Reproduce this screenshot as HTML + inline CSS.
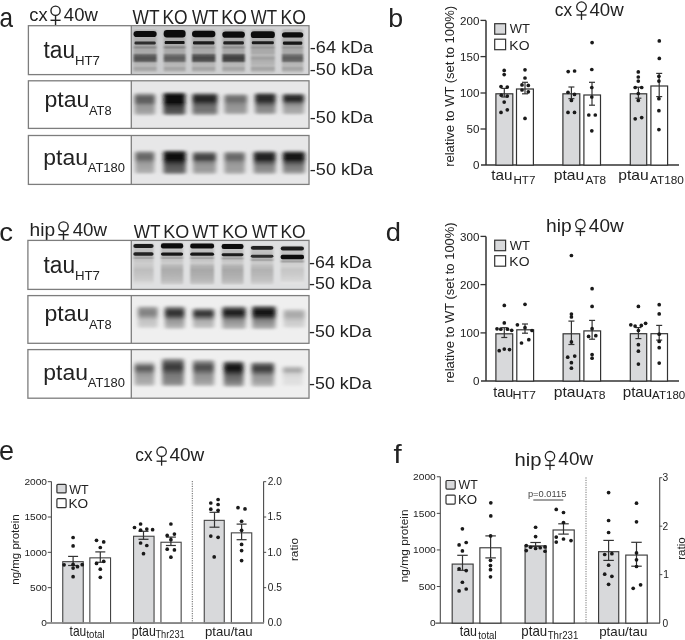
<!DOCTYPE html>
<html><head><meta charset="utf-8"><style>
html,body{margin:0;padding:0;background:#fff;}
svg{display:block;will-change:transform;}
text{font-family:"Liberation Sans",sans-serif;}
</style></head><body>
<svg width="685" height="640" viewBox="0 0 685 640">
<defs>
<filter id="b05" x="-20%" y="-100%" width="140%" height="300%"><feGaussianBlur stdDeviation="0.6"/></filter>
<filter id="b1" x="-20%" y="-100%" width="140%" height="300%"><feGaussianBlur stdDeviation="1"/></filter>
<filter id="b15" x="-20%" y="-60%" width="140%" height="220%"><feGaussianBlur stdDeviation="1.5"/></filter>
<filter id="b2" x="-20%" y="-50%" width="140%" height="200%"><feGaussianBlur stdDeviation="2"/></filter>
<filter id="h12" x="-20%" y="-20%" width="140%" height="140%"><feGaussianBlur stdDeviation="1.3 0.5"/></filter>
<filter id="h15" x="-25%" y="-25%" width="150%" height="150%"><feGaussianBlur stdDeviation="1.9 1.0"/></filter>
<linearGradient id="bga1" x1="0" y1="0" x2="1" y2="0"><stop offset="0" stop-color="#c9cacc"/><stop offset="0.5" stop-color="#cfd0d1"/><stop offset="1" stop-color="#d7d7d9"/></linearGradient><linearGradient id="g1" x1="0" y1="0" x2="0" y2="1"><stop offset="0.0000" stop-color="#cfd0d1"/><stop offset="0.0332" stop-color="rgb(185,185,185)"/><stop offset="0.2102" stop-color="rgb(175,175,175)"/><stop offset="0.2765" stop-color="rgb(170,170,170)"/><stop offset="0.3717" stop-color="rgb(170,170,170)"/><stop offset="0.4004" stop-color="rgb(150,150,150)"/><stop offset="0.4270" stop-color="rgb(140,140,140)"/><stop offset="0.4580" stop-color="rgb(168,168,168)"/><stop offset="0.5420" stop-color="rgb(170,170,170)"/><stop offset="0.5863" stop-color="rgb(105,105,105)"/><stop offset="0.6527" stop-color="rgb(80,80,80)"/><stop offset="0.7190" stop-color="rgb(95,95,95)"/><stop offset="0.7633" stop-color="rgb(180,180,180)"/><stop offset="0.8296" stop-color="rgb(185,185,185)"/><stop offset="0.8739" stop-color="rgb(165,165,165)"/><stop offset="0.9181" stop-color="rgb(170,170,170)"/><stop offset="0.9624" stop-color="rgb(195,195,195)"/><stop offset="1.0000" stop-color="#cfd0d1"/></linearGradient><linearGradient id="g2" x1="0" y1="0" x2="0" y2="1"><stop offset="0.0000" stop-color="#cfd0d1"/><stop offset="0.0332" stop-color="rgb(185,185,185)"/><stop offset="0.2102" stop-color="rgb(175,175,175)"/><stop offset="0.2765" stop-color="rgb(170,170,170)"/><stop offset="0.3717" stop-color="rgb(170,170,170)"/><stop offset="0.4004" stop-color="rgb(145,145,145)"/><stop offset="0.4270" stop-color="rgb(135,135,135)"/><stop offset="0.4580" stop-color="rgb(168,168,168)"/><stop offset="0.5420" stop-color="rgb(170,170,170)"/><stop offset="0.5863" stop-color="rgb(117,117,117)"/><stop offset="0.6527" stop-color="rgb(92,92,92)"/><stop offset="0.7190" stop-color="rgb(107,107,107)"/><stop offset="0.7633" stop-color="rgb(180,180,180)"/><stop offset="0.8296" stop-color="rgb(185,185,185)"/><stop offset="0.8739" stop-color="rgb(165,165,165)"/><stop offset="0.9181" stop-color="rgb(170,170,170)"/><stop offset="0.9624" stop-color="rgb(195,195,195)"/><stop offset="1.0000" stop-color="#cfd0d1"/></linearGradient><linearGradient id="g3" x1="0" y1="0" x2="0" y2="1"><stop offset="0.0000" stop-color="#cfd0d1"/><stop offset="0.0332" stop-color="rgb(185,185,185)"/><stop offset="0.2102" stop-color="rgb(175,175,175)"/><stop offset="0.2765" stop-color="rgb(170,170,170)"/><stop offset="0.3717" stop-color="rgb(170,170,170)"/><stop offset="0.4004" stop-color="rgb(160,160,160)"/><stop offset="0.4270" stop-color="rgb(150,150,150)"/><stop offset="0.4580" stop-color="rgb(168,168,168)"/><stop offset="0.5420" stop-color="rgb(170,170,170)"/><stop offset="0.5863" stop-color="rgb(95,95,95)"/><stop offset="0.6527" stop-color="rgb(70,70,70)"/><stop offset="0.7190" stop-color="rgb(85,85,85)"/><stop offset="0.7633" stop-color="rgb(180,180,180)"/><stop offset="0.8296" stop-color="rgb(185,185,185)"/><stop offset="0.8739" stop-color="rgb(165,165,165)"/><stop offset="0.9181" stop-color="rgb(170,170,170)"/><stop offset="0.9624" stop-color="rgb(195,195,195)"/><stop offset="1.0000" stop-color="#cfd0d1"/></linearGradient><linearGradient id="g4" x1="0" y1="0" x2="0" y2="1"><stop offset="0.0000" stop-color="#cfd0d1"/><stop offset="0.0332" stop-color="rgb(185,185,185)"/><stop offset="0.2102" stop-color="rgb(175,175,175)"/><stop offset="0.2765" stop-color="rgb(170,170,170)"/><stop offset="0.3717" stop-color="rgb(170,170,170)"/><stop offset="0.4004" stop-color="rgb(150,150,150)"/><stop offset="0.4270" stop-color="rgb(140,140,140)"/><stop offset="0.4580" stop-color="rgb(168,168,168)"/><stop offset="0.5420" stop-color="rgb(170,170,170)"/><stop offset="0.5863" stop-color="rgb(87,87,87)"/><stop offset="0.6527" stop-color="rgb(62,62,62)"/><stop offset="0.7190" stop-color="rgb(77,77,77)"/><stop offset="0.7633" stop-color="rgb(180,180,180)"/><stop offset="0.8296" stop-color="rgb(185,185,185)"/><stop offset="0.8739" stop-color="rgb(165,165,165)"/><stop offset="0.9181" stop-color="rgb(170,170,170)"/><stop offset="0.9624" stop-color="rgb(195,195,195)"/><stop offset="1.0000" stop-color="#cfd0d1"/></linearGradient><linearGradient id="g5" x1="0" y1="0" x2="0" y2="1"><stop offset="0.0000" stop-color="#cfd0d1"/><stop offset="0.0332" stop-color="rgb(185,185,185)"/><stop offset="0.2102" stop-color="rgb(175,175,175)"/><stop offset="0.2765" stop-color="rgb(170,170,170)"/><stop offset="0.3717" stop-color="rgb(170,170,170)"/><stop offset="0.4004" stop-color="rgb(160,160,160)"/><stop offset="0.4270" stop-color="rgb(150,150,150)"/><stop offset="0.4580" stop-color="rgb(168,168,168)"/><stop offset="0.5420" stop-color="rgb(170,170,170)"/><stop offset="0.5863" stop-color="rgb(185,185,185)"/><stop offset="0.6527" stop-color="rgb(160,160,160)"/><stop offset="0.7190" stop-color="rgb(175,175,175)"/><stop offset="0.7633" stop-color="rgb(180,180,180)"/><stop offset="0.8296" stop-color="rgb(185,185,185)"/><stop offset="0.8739" stop-color="rgb(165,165,165)"/><stop offset="0.9181" stop-color="rgb(170,170,170)"/><stop offset="0.9624" stop-color="rgb(195,195,195)"/><stop offset="1.0000" stop-color="#cfd0d1"/></linearGradient><linearGradient id="g6" x1="0" y1="0" x2="0" y2="1"><stop offset="0.0000" stop-color="#cfd0d1"/><stop offset="0.0332" stop-color="rgb(185,185,185)"/><stop offset="0.2102" stop-color="rgb(175,175,175)"/><stop offset="0.2765" stop-color="rgb(170,170,170)"/><stop offset="0.3717" stop-color="rgb(170,170,170)"/><stop offset="0.4004" stop-color="rgb(160,160,160)"/><stop offset="0.4270" stop-color="rgb(150,150,150)"/><stop offset="0.4580" stop-color="rgb(168,168,168)"/><stop offset="0.5420" stop-color="rgb(170,170,170)"/><stop offset="0.5863" stop-color="rgb(117,117,117)"/><stop offset="0.6527" stop-color="rgb(92,92,92)"/><stop offset="0.7190" stop-color="rgb(107,107,107)"/><stop offset="0.7633" stop-color="rgb(180,180,180)"/><stop offset="0.8296" stop-color="rgb(185,185,185)"/><stop offset="0.8739" stop-color="rgb(165,165,165)"/><stop offset="0.9181" stop-color="rgb(170,170,170)"/><stop offset="0.9624" stop-color="rgb(195,195,195)"/><stop offset="1.0000" stop-color="#cfd0d1"/></linearGradient><linearGradient id="g7" x1="0" y1="0" x2="0" y2="1"><stop offset="0.0000" stop-color="#e7e7e8"/><stop offset="0.1042" stop-color="rgb(149,149,149)"/><stop offset="0.2083" stop-color="rgb(96,96,96)"/><stop offset="0.3333" stop-color="rgb(92,92,92)"/><stop offset="0.4583" stop-color="rgb(105,105,105)"/><stop offset="0.5625" stop-color="rgb(149,149,149)"/><stop offset="0.6667" stop-color="rgb(154,154,154)"/><stop offset="0.7917" stop-color="rgb(158,158,158)"/><stop offset="0.9167" stop-color="rgb(176,176,176)"/><stop offset="1.0000" stop-color="#e7e7e8"/></linearGradient><linearGradient id="g8" x1="0" y1="0" x2="0" y2="1"><stop offset="0.0000" stop-color="#e7e7e8"/><stop offset="0.0816" stop-color="rgb(52,52,52)"/><stop offset="0.1837" stop-color="rgb(13,13,13)"/><stop offset="0.4694" stop-color="rgb(13,13,13)"/><stop offset="0.5714" stop-color="rgb(52,52,52)"/><stop offset="0.6735" stop-color="rgb(70,70,70)"/><stop offset="0.7959" stop-color="rgb(79,79,79)"/><stop offset="0.9184" stop-color="rgb(105,105,105)"/><stop offset="1.0000" stop-color="#e7e7e8"/></linearGradient><linearGradient id="g9" x1="0" y1="0" x2="0" y2="1"><stop offset="0.0000" stop-color="#e7e7e8"/><stop offset="0.1042" stop-color="rgb(88,88,88)"/><stop offset="0.2083" stop-color="rgb(35,35,35)"/><stop offset="0.3750" stop-color="rgb(39,39,39)"/><stop offset="0.5000" stop-color="rgb(88,88,88)"/><stop offset="0.6250" stop-color="rgb(114,114,114)"/><stop offset="0.7917" stop-color="rgb(114,114,114)"/><stop offset="0.9167" stop-color="rgb(149,149,149)"/><stop offset="1.0000" stop-color="#e7e7e8"/></linearGradient><linearGradient id="g10" x1="0" y1="0" x2="0" y2="1"><stop offset="0.0000" stop-color="#e7e7e8"/><stop offset="0.1136" stop-color="rgb(140,140,140)"/><stop offset="0.2273" stop-color="rgb(110,110,110)"/><stop offset="0.3636" stop-color="rgb(110,110,110)"/><stop offset="0.5000" stop-color="rgb(140,140,140)"/><stop offset="0.6364" stop-color="rgb(149,149,149)"/><stop offset="0.8182" stop-color="rgb(154,154,154)"/><stop offset="0.9318" stop-color="rgb(176,176,176)"/><stop offset="1.0000" stop-color="#e7e7e8"/></linearGradient><linearGradient id="g11" x1="0" y1="0" x2="0" y2="1"><stop offset="0.0000" stop-color="#e7e7e8"/><stop offset="0.0870" stop-color="rgb(88,88,88)"/><stop offset="0.1957" stop-color="rgb(39,39,39)"/><stop offset="0.3913" stop-color="rgb(44,44,44)"/><stop offset="0.5217" stop-color="rgb(96,96,96)"/><stop offset="0.6522" stop-color="rgb(132,132,132)"/><stop offset="0.8261" stop-color="rgb(140,140,140)"/><stop offset="0.9348" stop-color="rgb(167,167,167)"/><stop offset="1.0000" stop-color="#e7e7e8"/></linearGradient><linearGradient id="g12" x1="0" y1="0" x2="0" y2="1"><stop offset="0.0000" stop-color="#e7e7e8"/><stop offset="0.1111" stop-color="rgb(79,79,79)"/><stop offset="0.2222" stop-color="rgb(39,39,39)"/><stop offset="0.3778" stop-color="rgb(52,52,52)"/><stop offset="0.5111" stop-color="rgb(132,132,132)"/><stop offset="0.6444" stop-color="rgb(158,158,158)"/><stop offset="0.8222" stop-color="rgb(167,167,167)"/><stop offset="0.9333" stop-color="rgb(180,180,180)"/><stop offset="1.0000" stop-color="#e7e7e8"/></linearGradient><linearGradient id="g13" x1="0" y1="0" x2="0" y2="1"><stop offset="0.0000" stop-color="#e7e7e8"/><stop offset="0.1020" stop-color="rgb(140,140,140)"/><stop offset="0.2245" stop-color="rgb(101,101,101)"/><stop offset="0.3673" stop-color="rgb(105,105,105)"/><stop offset="0.4898" stop-color="rgb(145,145,145)"/><stop offset="0.6122" stop-color="rgb(162,162,162)"/><stop offset="0.7755" stop-color="rgb(167,167,167)"/><stop offset="0.9184" stop-color="rgb(180,180,180)"/><stop offset="1.0000" stop-color="#e7e7e8"/></linearGradient><linearGradient id="g14" x1="0" y1="0" x2="0" y2="1"><stop offset="0.0000" stop-color="#e7e7e8"/><stop offset="0.0784" stop-color="rgb(70,70,70)"/><stop offset="0.1765" stop-color="rgb(17,17,17)"/><stop offset="0.4118" stop-color="rgb(17,17,17)"/><stop offset="0.5294" stop-color="rgb(61,61,61)"/><stop offset="0.6471" stop-color="rgb(88,88,88)"/><stop offset="0.8039" stop-color="rgb(96,96,96)"/><stop offset="0.9216" stop-color="rgb(123,123,123)"/><stop offset="1.0000" stop-color="#e7e7e8"/></linearGradient><linearGradient id="g15" x1="0" y1="0" x2="0" y2="1"><stop offset="0.0000" stop-color="#e7e7e8"/><stop offset="0.1020" stop-color="rgb(123,123,123)"/><stop offset="0.2245" stop-color="rgb(66,66,66)"/><stop offset="0.3673" stop-color="rgb(70,70,70)"/><stop offset="0.4898" stop-color="rgb(132,132,132)"/><stop offset="0.6327" stop-color="rgb(154,154,154)"/><stop offset="0.7959" stop-color="rgb(154,154,154)"/><stop offset="0.9184" stop-color="rgb(176,176,176)"/><stop offset="1.0000" stop-color="#e7e7e8"/></linearGradient><linearGradient id="g16" x1="0" y1="0" x2="0" y2="1"><stop offset="0.0000" stop-color="#e7e7e8"/><stop offset="0.1020" stop-color="rgb(140,140,140)"/><stop offset="0.2245" stop-color="rgb(101,101,101)"/><stop offset="0.3673" stop-color="rgb(110,110,110)"/><stop offset="0.4898" stop-color="rgb(145,145,145)"/><stop offset="0.6327" stop-color="rgb(158,158,158)"/><stop offset="0.7959" stop-color="rgb(158,158,158)"/><stop offset="0.9184" stop-color="rgb(176,176,176)"/><stop offset="1.0000" stop-color="#e7e7e8"/></linearGradient><linearGradient id="g17" x1="0" y1="0" x2="0" y2="1"><stop offset="0.0000" stop-color="#e7e7e8"/><stop offset="0.1000" stop-color="rgb(79,79,79)"/><stop offset="0.2200" stop-color="rgb(30,30,30)"/><stop offset="0.3800" stop-color="rgb(35,35,35)"/><stop offset="0.5000" stop-color="rgb(88,88,88)"/><stop offset="0.6400" stop-color="rgb(132,132,132)"/><stop offset="0.8000" stop-color="rgb(140,140,140)"/><stop offset="0.9200" stop-color="rgb(167,167,167)"/><stop offset="1.0000" stop-color="#e7e7e8"/></linearGradient><linearGradient id="g18" x1="0" y1="0" x2="0" y2="1"><stop offset="0.0000" stop-color="#e7e7e8"/><stop offset="0.1000" stop-color="rgb(61,61,61)"/><stop offset="0.2200" stop-color="rgb(17,17,17)"/><stop offset="0.3800" stop-color="rgb(22,22,22)"/><stop offset="0.5000" stop-color="rgb(79,79,79)"/><stop offset="0.6400" stop-color="rgb(123,123,123)"/><stop offset="0.8000" stop-color="rgb(132,132,132)"/><stop offset="0.9200" stop-color="rgb(167,167,167)"/><stop offset="1.0000" stop-color="#e7e7e8"/></linearGradient><linearGradient id="g19" x1="0" y1="0" x2="0" y2="1"><stop offset="0.0000" stop-color="#dfe0e1"/><stop offset="0.0348" stop-color="rgb(200,200,200)"/><stop offset="0.3202" stop-color="rgb(185,185,185)"/><stop offset="0.3434" stop-color="rgb(170,170,170)"/><stop offset="0.3666" stop-color="rgb(160,160,160)"/><stop offset="0.3968" stop-color="rgb(195,195,195)"/><stop offset="0.4780" stop-color="rgb(205,205,205)"/><stop offset="0.5476" stop-color="rgb(202,202,202)"/><stop offset="0.6404" stop-color="rgb(190,190,190)"/><stop offset="0.7564" stop-color="rgb(196,196,196)"/><stop offset="0.8724" stop-color="rgb(205,205,205)"/><stop offset="0.9420" stop-color="rgb(218,218,218)"/><stop offset="1.0000" stop-color="#dfe0e1"/></linearGradient><linearGradient id="g20" x1="0" y1="0" x2="0" y2="1"><stop offset="0.0000" stop-color="#dfe0e1"/><stop offset="0.0343" stop-color="rgb(200,200,200)"/><stop offset="0.3295" stop-color="rgb(185,185,185)"/><stop offset="0.3524" stop-color="rgb(170,170,170)"/><stop offset="0.3753" stop-color="rgb(160,160,160)"/><stop offset="0.4050" stop-color="rgb(195,195,195)"/><stop offset="0.4851" stop-color="rgb(205,205,205)"/><stop offset="0.5538" stop-color="rgb(184,184,184)"/><stop offset="0.6453" stop-color="rgb(172,172,172)"/><stop offset="0.7597" stop-color="rgb(178,178,178)"/><stop offset="0.8741" stop-color="rgb(187,187,187)"/><stop offset="0.9428" stop-color="rgb(200,200,200)"/><stop offset="1.0000" stop-color="#dfe0e1"/></linearGradient><linearGradient id="g21" x1="0" y1="0" x2="0" y2="1"><stop offset="0.0000" stop-color="#dfe0e1"/><stop offset="0.0345" stop-color="rgb(200,200,200)"/><stop offset="0.3287" stop-color="rgb(185,185,185)"/><stop offset="0.3517" stop-color="rgb(170,170,170)"/><stop offset="0.3747" stop-color="rgb(160,160,160)"/><stop offset="0.4046" stop-color="rgb(195,195,195)"/><stop offset="0.4828" stop-color="rgb(205,205,205)"/><stop offset="0.5517" stop-color="rgb(180,180,180)"/><stop offset="0.6437" stop-color="rgb(168,168,168)"/><stop offset="0.7586" stop-color="rgb(174,174,174)"/><stop offset="0.8736" stop-color="rgb(183,183,183)"/><stop offset="0.9425" stop-color="rgb(196,196,196)"/><stop offset="1.0000" stop-color="#dfe0e1"/></linearGradient><linearGradient id="g22" x1="0" y1="0" x2="0" y2="1"><stop offset="0.0000" stop-color="#dfe0e1"/><stop offset="0.0350" stop-color="rgb(200,200,200)"/><stop offset="0.3287" stop-color="rgb(185,185,185)"/><stop offset="0.3520" stop-color="rgb(170,170,170)"/><stop offset="0.3753" stop-color="rgb(160,160,160)"/><stop offset="0.4056" stop-color="rgb(195,195,195)"/><stop offset="0.4755" stop-color="rgb(205,205,205)"/><stop offset="0.5455" stop-color="rgb(180,180,180)"/><stop offset="0.6387" stop-color="rgb(168,168,168)"/><stop offset="0.7552" stop-color="rgb(174,174,174)"/><stop offset="0.8718" stop-color="rgb(183,183,183)"/><stop offset="0.9417" stop-color="rgb(196,196,196)"/><stop offset="1.0000" stop-color="#dfe0e1"/></linearGradient><linearGradient id="g23" x1="0" y1="0" x2="0" y2="1"><stop offset="0.0000" stop-color="#dfe0e1"/><stop offset="0.0366" stop-color="rgb(200,200,200)"/><stop offset="0.3341" stop-color="rgb(185,185,185)"/><stop offset="0.3585" stop-color="rgb(170,170,170)"/><stop offset="0.3829" stop-color="rgb(160,160,160)"/><stop offset="0.4146" stop-color="rgb(195,195,195)"/><stop offset="0.4512" stop-color="rgb(205,205,205)"/><stop offset="0.5244" stop-color="rgb(190,190,190)"/><stop offset="0.6220" stop-color="rgb(178,178,178)"/><stop offset="0.7439" stop-color="rgb(184,184,184)"/><stop offset="0.8659" stop-color="rgb(193,193,193)"/><stop offset="0.9390" stop-color="rgb(206,206,206)"/><stop offset="1.0000" stop-color="#dfe0e1"/></linearGradient><linearGradient id="g24" x1="0" y1="0" x2="0" y2="1"><stop offset="0.0000" stop-color="#dfe0e1"/><stop offset="0.0370" stop-color="rgb(200,200,200)"/><stop offset="0.3630" stop-color="rgb(185,185,185)"/><stop offset="0.3877" stop-color="rgb(170,170,170)"/><stop offset="0.4123" stop-color="rgb(160,160,160)"/><stop offset="0.4444" stop-color="rgb(195,195,195)"/><stop offset="0.4444" stop-color="rgb(205,205,205)"/><stop offset="0.5185" stop-color="rgb(210,210,210)"/><stop offset="0.6173" stop-color="rgb(198,198,198)"/><stop offset="0.7407" stop-color="rgb(204,204,204)"/><stop offset="0.8642" stop-color="rgb(213,213,213)"/><stop offset="0.9383" stop-color="rgb(226,226,226)"/><stop offset="1.0000" stop-color="#dfe0e1"/></linearGradient><linearGradient id="g25" x1="0" y1="0" x2="0" y2="1"><stop offset="0.0000" stop-color="#efefef"/><stop offset="0.1042" stop-color="rgb(175,175,175)"/><stop offset="0.2083" stop-color="rgb(135,135,135)"/><stop offset="0.3750" stop-color="rgb(130,130,130)"/><stop offset="0.5000" stop-color="rgb(160,160,160)"/><stop offset="0.6250" stop-color="rgb(195,195,195)"/><stop offset="0.7917" stop-color="rgb(200,200,200)"/><stop offset="0.9167" stop-color="rgb(210,210,210)"/><stop offset="1.0000" stop-color="#efefef"/></linearGradient><linearGradient id="g26" x1="0" y1="0" x2="0" y2="1"><stop offset="0.0000" stop-color="#efefef"/><stop offset="0.1000" stop-color="rgb(140,140,140)"/><stop offset="0.2200" stop-color="rgb(60,60,60)"/><stop offset="0.3600" stop-color="rgb(45,45,45)"/><stop offset="0.4800" stop-color="rgb(90,90,90)"/><stop offset="0.6000" stop-color="rgb(150,150,150)"/><stop offset="0.7600" stop-color="rgb(165,165,165)"/><stop offset="0.9000" stop-color="rgb(185,185,185)"/><stop offset="1.0000" stop-color="#efefef"/></linearGradient><linearGradient id="g27" x1="0" y1="0" x2="0" y2="1"><stop offset="0.0000" stop-color="#efefef"/><stop offset="0.1136" stop-color="rgb(130,130,130)"/><stop offset="0.2273" stop-color="rgb(60,60,60)"/><stop offset="0.3636" stop-color="rgb(55,55,55)"/><stop offset="0.5000" stop-color="rgb(120,120,120)"/><stop offset="0.6364" stop-color="rgb(175,175,175)"/><stop offset="0.8182" stop-color="rgb(185,185,185)"/><stop offset="0.9318" stop-color="rgb(200,200,200)"/><stop offset="1.0000" stop-color="#efefef"/></linearGradient><linearGradient id="g28" x1="0" y1="0" x2="0" y2="1"><stop offset="0.0000" stop-color="#efefef"/><stop offset="0.1000" stop-color="rgb(120,120,120)"/><stop offset="0.2200" stop-color="rgb(40,40,40)"/><stop offset="0.3600" stop-color="rgb(30,30,30)"/><stop offset="0.4800" stop-color="rgb(80,80,80)"/><stop offset="0.6000" stop-color="rgb(140,140,140)"/><stop offset="0.7600" stop-color="rgb(160,160,160)"/><stop offset="0.9200" stop-color="rgb(180,180,180)"/><stop offset="1.0000" stop-color="#efefef"/></linearGradient><linearGradient id="g29" x1="0" y1="0" x2="0" y2="1"><stop offset="0.0000" stop-color="#efefef"/><stop offset="0.0980" stop-color="rgb(100,100,100)"/><stop offset="0.2157" stop-color="rgb(25,25,25)"/><stop offset="0.3725" stop-color="rgb(20,20,20)"/><stop offset="0.4902" stop-color="rgb(60,60,60)"/><stop offset="0.6078" stop-color="rgb(130,130,130)"/><stop offset="0.7647" stop-color="rgb(150,150,150)"/><stop offset="0.9216" stop-color="rgb(175,175,175)"/><stop offset="1.0000" stop-color="#efefef"/></linearGradient><linearGradient id="g30" x1="0" y1="0" x2="0" y2="1"><stop offset="0.0000" stop-color="#efefef"/><stop offset="0.1190" stop-color="rgb(195,195,195)"/><stop offset="0.2381" stop-color="rgb(170,170,170)"/><stop offset="0.3810" stop-color="rgb(170,170,170)"/><stop offset="0.5238" stop-color="rgb(190,190,190)"/><stop offset="0.6667" stop-color="rgb(205,205,205)"/><stop offset="0.8571" stop-color="rgb(210,210,210)"/><stop offset="1.0000" stop-color="#efefef"/></linearGradient><linearGradient id="g31" x1="0" y1="0" x2="0" y2="1"><stop offset="0.0000" stop-color="#efefef"/><stop offset="0.1111" stop-color="rgb(190,190,190)"/><stop offset="0.2222" stop-color="rgb(110,110,110)"/><stop offset="0.3148" stop-color="rgb(90,90,90)"/><stop offset="0.4074" stop-color="rgb(110,110,110)"/><stop offset="0.5185" stop-color="rgb(150,150,150)"/><stop offset="0.6667" stop-color="rgb(165,165,165)"/><stop offset="0.8148" stop-color="rgb(170,170,170)"/><stop offset="0.9259" stop-color="rgb(190,190,190)"/><stop offset="1.0000" stop-color="#efefef"/></linearGradient><linearGradient id="g32" x1="0" y1="0" x2="0" y2="1"><stop offset="0.0000" stop-color="#efefef"/><stop offset="0.0820" stop-color="rgb(150,150,150)"/><stop offset="0.1967" stop-color="rgb(80,80,80)"/><stop offset="0.3607" stop-color="rgb(55,55,55)"/><stop offset="0.4590" stop-color="rgb(85,85,85)"/><stop offset="0.5902" stop-color="rgb(120,120,120)"/><stop offset="0.7541" stop-color="rgb(130,130,130)"/><stop offset="0.8852" stop-color="rgb(145,145,145)"/><stop offset="1.0000" stop-color="#efefef"/></linearGradient><linearGradient id="g33" x1="0" y1="0" x2="0" y2="1"><stop offset="0.0000" stop-color="#efefef"/><stop offset="0.1034" stop-color="rgb(150,150,150)"/><stop offset="0.2241" stop-color="rgb(90,90,90)"/><stop offset="0.3276" stop-color="rgb(75,75,75)"/><stop offset="0.4310" stop-color="rgb(100,100,100)"/><stop offset="0.5690" stop-color="rgb(145,145,145)"/><stop offset="0.7414" stop-color="rgb(155,155,155)"/><stop offset="0.8793" stop-color="rgb(170,170,170)"/><stop offset="1.0000" stop-color="#efefef"/></linearGradient><linearGradient id="g34" x1="0" y1="0" x2="0" y2="1"><stop offset="0.0000" stop-color="#efefef"/><stop offset="0.0893" stop-color="rgb(100,100,100)"/><stop offset="0.1964" stop-color="rgb(30,30,30)"/><stop offset="0.3214" stop-color="rgb(15,15,15)"/><stop offset="0.4286" stop-color="rgb(50,50,50)"/><stop offset="0.5714" stop-color="rgb(100,100,100)"/><stop offset="0.7500" stop-color="rgb(120,120,120)"/><stop offset="0.8929" stop-color="rgb(150,150,150)"/><stop offset="1.0000" stop-color="#efefef"/></linearGradient><linearGradient id="g35" x1="0" y1="0" x2="0" y2="1"><stop offset="0.0000" stop-color="#efefef"/><stop offset="0.0926" stop-color="rgb(130,130,130)"/><stop offset="0.2037" stop-color="rgb(70,70,70)"/><stop offset="0.3148" stop-color="rgb(60,60,60)"/><stop offset="0.4259" stop-color="rgb(100,100,100)"/><stop offset="0.5556" stop-color="rgb(150,150,150)"/><stop offset="0.7407" stop-color="rgb(160,160,160)"/><stop offset="0.8889" stop-color="rgb(180,180,180)"/><stop offset="1.0000" stop-color="#efefef"/></linearGradient><linearGradient id="g36" x1="0" y1="0" x2="0" y2="1"><stop offset="0.0000" stop-color="#efefef"/><stop offset="0.1136" stop-color="rgb(195,195,195)"/><stop offset="0.2045" stop-color="rgb(170,170,170)"/><stop offset="0.2955" stop-color="rgb(172,172,172)"/><stop offset="0.4091" stop-color="rgb(210,210,210)"/><stop offset="0.5909" stop-color="rgb(222,222,222)"/><stop offset="0.8636" stop-color="rgb(225,225,225)"/><stop offset="1.0000" stop-color="#efefef"/></linearGradient>
</defs>
<rect width="685" height="640" fill="#fff"/>
<rect x="131.90" y="26.30" width="176.50" height="47.70" fill="url(#bga1)" stroke="none" stroke-width="1" />
<rect x="133.50" y="28.50" width="23.20" height="45.20" rx="3" fill="url(#g1)" filter="url(#h12)"/>
<rect x="163.70" y="28.50" width="21.90" height="45.20" rx="3" fill="url(#g2)" filter="url(#h12)"/>
<rect x="192.00" y="28.50" width="23.40" height="45.20" rx="3" fill="url(#g3)" filter="url(#h12)"/>
<rect x="222.30" y="28.50" width="22.60" height="45.20" rx="3" fill="url(#g4)" filter="url(#h12)"/>
<rect x="250.80" y="28.50" width="24.10" height="45.20" rx="3" fill="url(#g5)" filter="url(#h12)"/>
<rect x="281.90" y="28.50" width="21.40" height="45.20" rx="3" fill="url(#g6)" filter="url(#h12)"/>
<rect x="133.50" y="30.90" width="23.20" height="6.20" rx="3.2" fill="#0d0d0d" filter="url(#b05)"/>
<rect x="134.50" y="41.60" width="21.20" height="2.90" rx="1.2" fill="rgb(45,45,45)" filter="url(#b05)"/>
<rect x="163.70" y="30.00" width="21.90" height="7.40" rx="3.2" fill="#0d0d0d" filter="url(#b05)"/>
<rect x="164.70" y="41.00" width="19.90" height="3.10" rx="1.2" fill="rgb(18,18,18)" filter="url(#b05)"/>
<rect x="192.00" y="30.80" width="23.40" height="6.50" rx="3.2" fill="#0d0d0d" filter="url(#b05)"/>
<rect x="193.00" y="41.30" width="21.40" height="3.10" rx="1.2" fill="rgb(30,30,30)" filter="url(#b05)"/>
<rect x="222.30" y="31.60" width="22.60" height="6.20" rx="3.2" fill="#0d0d0d" filter="url(#b05)"/>
<rect x="223.30" y="41.30" width="20.60" height="3.20" rx="1.2" fill="rgb(35,35,35)" filter="url(#b05)"/>
<rect x="250.80" y="31.20" width="24.10" height="6.90" rx="3.2" fill="#0d0d0d" filter="url(#b05)"/>
<rect x="251.80" y="41.20" width="22.10" height="3.10" rx="1.2" fill="rgb(28,28,28)" filter="url(#b05)"/>
<rect x="281.90" y="32.20" width="21.40" height="5.40" rx="3.2" fill="#0d0d0d" filter="url(#b05)"/>
<rect x="282.90" y="41.50" width="19.40" height="3.20" rx="1.2" fill="rgb(22,22,22)" filter="url(#b05)"/>
<rect x="131.90" y="81.40" width="176.50" height="46.40" fill="#e7e7e8" stroke="none" stroke-width="1" />
<rect x="134.60" y="92.00" width="20.40" height="24.00" rx="3" fill="url(#g7)" filter="url(#h15)"/>
<rect x="163.50" y="91.50" width="21.70" height="24.50" rx="3" fill="url(#g8)" filter="url(#h15)"/>
<rect x="192.40" y="92.00" width="25.00" height="24.00" rx="3" fill="url(#g9)" filter="url(#h15)"/>
<rect x="224.50" y="93.00" width="22.60" height="22.00" rx="3" fill="url(#g10)" filter="url(#h15)"/>
<rect x="255.10" y="92.00" width="20.50" height="23.00" rx="3" fill="url(#g11)" filter="url(#h15)"/>
<rect x="282.90" y="92.50" width="21.10" height="22.50" rx="3" fill="url(#g12)" filter="url(#h15)"/>
<rect x="131.90" y="136.10" width="176.50" height="47.70" fill="#e7e7e8" stroke="none" stroke-width="1" />
<rect x="135.30" y="150.00" width="19.00" height="24.50" rx="3" fill="url(#g13)" filter="url(#h15)"/>
<rect x="163.50" y="149.50" width="22.30" height="25.50" rx="3" fill="url(#g14)" filter="url(#h15)"/>
<rect x="193.00" y="150.50" width="23.00" height="24.50" rx="3" fill="url(#g15)" filter="url(#h15)"/>
<rect x="224.50" y="150.50" width="20.40" height="24.50" rx="3" fill="url(#g16)" filter="url(#h15)"/>
<rect x="253.70" y="150.00" width="21.90" height="25.00" rx="3" fill="url(#g17)" filter="url(#h15)"/>
<rect x="282.90" y="150.00" width="21.90" height="25.00" rx="3" fill="url(#g18)" filter="url(#h15)"/>
<text transform="translate(-0.42,26.60) scale(0.8876,1)" font-size="27.4" fill="#222" >a</text>
<text transform="translate(29.33,20.60) scale(1.0149,1)" font-size="18" fill="#222" >cx</text>
<circle cx="55.55" cy="10.75" r="4.6" fill="none" stroke="#222" stroke-width="1.4"/>
<line x1="55.55" y1="15.35" x2="55.55" y2="25.1" stroke="#222" stroke-width="1.4"/>
<line x1="50.5" y1="20.3" x2="60.599999999999994" y2="20.3" stroke="#222" stroke-width="1.4"/>
<text transform="translate(63.87,20.80) scale(1.0296,1)" font-size="18" fill="#222" >40w</text>
<text transform="translate(132.61,23.55) scale(0.9026,1)" font-size="19.3" fill="#222" >WT</text>
<text transform="translate(162.47,23.55) scale(0.9023,1)" font-size="19.3" fill="#222" >KO</text>
<text transform="translate(191.91,23.55) scale(0.8890,1)" font-size="19.3" fill="#222" >WT</text>
<text transform="translate(221.13,23.55) scale(0.9259,1)" font-size="19.3" fill="#222" >KO</text>
<text transform="translate(250.82,23.55) scale(0.8788,1)" font-size="19.3" fill="#222" >WT</text>
<text transform="translate(280.55,23.55) scale(0.9141,1)" font-size="19.3" fill="#222" >KO</text>
<rect x="28.40" y="25.70" width="280.60" height="48.90" fill="none" stroke="#7d7d7d" stroke-width="1.3" />
<line x1="131.30" y1="25.70" x2="131.30" y2="74.60" stroke="#7d7d7d" stroke-width="1.3" />
<rect x="28.40" y="80.80" width="280.60" height="47.60" fill="none" stroke="#7d7d7d" stroke-width="1.3" />
<line x1="131.30" y1="80.80" x2="131.30" y2="128.40" stroke="#7d7d7d" stroke-width="1.3" />
<rect x="28.40" y="135.50" width="280.60" height="48.90" fill="none" stroke="#7d7d7d" stroke-width="1.3" />
<line x1="131.30" y1="135.50" x2="131.30" y2="184.40" stroke="#7d7d7d" stroke-width="1.3" />
<text transform="translate(43.56,58.00) scale(0.9738,1)" font-size="23.3" fill="#222" >tau</text>
<text transform="translate(74.91,65.15) scale(1.0046,1)" font-size="13.2" fill="#222" >HT7</text>
<text transform="translate(44.50,106.70) scale(1.0260,1)" font-size="22.5" fill="#222" >ptau</text>
<text transform="translate(88.97,114.60) scale(0.9718,1)" font-size="13.2" fill="#222" >AT8</text>
<text transform="translate(43.31,165.00) scale(1.0187,1)" font-size="22.5" fill="#222" >ptau</text>
<text transform="translate(87.77,172.40) scale(1.0049,1)" font-size="12.9" fill="#222" >AT180</text>
<text transform="translate(309.80,53.00) scale(1.1608,1)" font-size="15.6" fill="#222" >-64 kDa</text>
<text transform="translate(309.80,74.60) scale(1.1608,1)" font-size="15.6" fill="#222" >-50 kDa</text>
<text transform="translate(309.80,122.50) scale(1.1608,1)" font-size="15.6" fill="#222" >-50 kDa</text>
<text transform="translate(309.80,175.00) scale(1.1608,1)" font-size="15.6" fill="#222" >-50 kDa</text>
<rect x="131.90" y="241.00" width="176.50" height="47.80" fill="#dfe0e1" stroke="none" stroke-width="1" />
<rect x="133.30" y="242.40" width="20.30" height="43.10" rx="3" fill="url(#g19)" filter="url(#h12)"/>
<rect x="160.90" y="241.80" width="22.30" height="43.70" rx="3" fill="url(#g20)" filter="url(#h12)"/>
<rect x="190.20" y="242.00" width="23.90" height="43.50" rx="3" fill="url(#g21)" filter="url(#h12)"/>
<rect x="221.60" y="242.60" width="21.90" height="42.90" rx="3" fill="url(#g22)" filter="url(#h12)"/>
<rect x="250.80" y="244.50" width="22.60" height="41.00" rx="3" fill="url(#g23)" filter="url(#h12)"/>
<rect x="280.70" y="245.00" width="23.30" height="40.50" rx="3" fill="url(#g24)" filter="url(#h12)"/>
<rect x="133.30" y="243.90" width="20.30" height="4.00" rx="2.2" fill="rgb(30,30,30)" filter="url(#b05)"/>
<rect x="133.30" y="252.20" width="20.30" height="3.50" rx="1.8" fill="rgb(35,35,35)" filter="url(#b05)"/>
<rect x="160.90" y="243.30" width="22.30" height="5.20" rx="2.2" fill="rgb(15,15,15)" filter="url(#b05)"/>
<rect x="160.90" y="252.50" width="22.30" height="3.20" rx="1.8" fill="rgb(25,25,25)" filter="url(#b05)"/>
<rect x="190.20" y="243.50" width="23.90" height="5.00" rx="2.2" fill="rgb(15,15,15)" filter="url(#b05)"/>
<rect x="190.20" y="252.60" width="23.90" height="3.20" rx="1.8" fill="rgb(25,25,25)" filter="url(#b05)"/>
<rect x="221.60" y="244.10" width="21.90" height="4.90" rx="2.2" fill="rgb(10,10,10)" filter="url(#b05)"/>
<rect x="221.60" y="253.30" width="21.90" height="2.90" rx="1.8" fill="rgb(30,30,30)" filter="url(#b05)"/>
<rect x="250.80" y="246.00" width="22.60" height="3.70" rx="2.2" fill="rgb(35,35,35)" filter="url(#b05)"/>
<rect x="250.80" y="254.80" width="22.60" height="2.90" rx="1.8" fill="rgb(45,45,45)" filter="url(#b05)"/>
<rect x="280.70" y="246.50" width="23.30" height="3.90" rx="2.2" fill="rgb(30,30,30)" filter="url(#b05)"/>
<rect x="280.70" y="254.80" width="23.30" height="4.40" rx="1.8" fill="rgb(12,12,12)" filter="url(#b05)"/>
<rect x="131.90" y="296.20" width="176.50" height="46.50" fill="#efefef" stroke="none" stroke-width="1" />
<rect x="137.90" y="305.00" width="19.70" height="24.00" rx="3" fill="url(#g25)" filter="url(#h15)"/>
<rect x="164.80" y="305.00" width="19.70" height="25.00" rx="3" fill="url(#g26)" filter="url(#h15)"/>
<rect x="193.00" y="307.00" width="21.10" height="22.00" rx="3" fill="url(#g27)" filter="url(#h15)"/>
<rect x="222.30" y="305.00" width="23.40" height="25.00" rx="3" fill="url(#g28)" filter="url(#h15)"/>
<rect x="252.20" y="304.50" width="23.40" height="25.50" rx="3" fill="url(#g29)" filter="url(#h15)"/>
<rect x="283.60" y="308.00" width="21.20" height="21.00" rx="3" fill="url(#g30)" filter="url(#h15)"/>
<rect x="131.90" y="350.20" width="176.50" height="47.40" fill="#efefef" stroke="none" stroke-width="1" />
<rect x="134.60" y="360.00" width="19.70" height="27.00" rx="3" fill="url(#g31)" filter="url(#h15)"/>
<rect x="162.20" y="357.00" width="21.70" height="30.50" rx="3" fill="url(#g32)" filter="url(#h15)"/>
<rect x="193.00" y="358.50" width="21.10" height="29.00" rx="3" fill="url(#g33)" filter="url(#h15)"/>
<rect x="223.80" y="360.00" width="19.70" height="28.00" rx="3" fill="url(#g34)" filter="url(#h15)"/>
<rect x="251.50" y="361.00" width="22.60" height="27.00" rx="3" fill="url(#g35)" filter="url(#h15)"/>
<rect x="282.90" y="365.00" width="19.70" height="22.00" rx="3" fill="url(#g36)" filter="url(#h15)"/>
<text transform="translate(-0.86,240.60) scale(1.0595,1)" font-size="26" fill="#222" >c</text>
<text transform="translate(29.58,235.60) scale(1.0017,1)" font-size="19.1" fill="#222" >hip</text>
<circle cx="63.5" cy="226.6" r="4.7" fill="none" stroke="#222" stroke-width="1.4"/>
<line x1="63.5" y1="231.29999999999998" x2="63.5" y2="240" stroke="#222" stroke-width="1.4"/>
<line x1="58.35" y1="234.7" x2="68.65" y2="234.7" stroke="#222" stroke-width="1.4"/>
<text transform="translate(72.67,235.60) scale(1.0082,1)" font-size="18.6" fill="#222" >40w</text>
<text transform="translate(133.81,237.80) scale(0.9463,1)" font-size="18.2" fill="#222" >WT</text>
<text transform="translate(163.33,237.80) scale(0.9861,1)" font-size="18.2" fill="#222" >KO</text>
<text transform="translate(192.31,237.80) scale(0.9427,1)" font-size="18.2" fill="#222" >WT</text>
<text transform="translate(222.13,237.80) scale(0.9861,1)" font-size="18.2" fill="#222" >KO</text>
<text transform="translate(252.12,237.80) scale(0.9176,1)" font-size="18.2" fill="#222" >WT</text>
<text transform="translate(280.47,237.80) scale(0.9610,1)" font-size="18.2" fill="#222" >KO</text>
<rect x="27.90" y="240.40" width="281.10" height="49.00" fill="none" stroke="#7d7d7d" stroke-width="1.3" />
<line x1="131.30" y1="240.40" x2="131.30" y2="289.40" stroke="#7d7d7d" stroke-width="1.3" />
<rect x="27.90" y="295.60" width="281.10" height="47.70" fill="none" stroke="#7d7d7d" stroke-width="1.3" />
<line x1="131.30" y1="295.60" x2="131.30" y2="343.30" stroke="#7d7d7d" stroke-width="1.3" />
<rect x="27.90" y="349.60" width="281.10" height="48.60" fill="none" stroke="#7d7d7d" stroke-width="1.3" />
<line x1="131.30" y1="349.60" x2="131.30" y2="398.20" stroke="#7d7d7d" stroke-width="1.3" />
<text transform="translate(43.56,272.70) scale(0.9738,1)" font-size="23.3" fill="#222" >tau</text>
<text transform="translate(74.91,279.85) scale(1.0046,1)" font-size="13.2" fill="#222" >HT7</text>
<text transform="translate(44.50,321.40) scale(1.0260,1)" font-size="22.5" fill="#222" >ptau</text>
<text transform="translate(88.97,329.30) scale(0.9718,1)" font-size="13.2" fill="#222" >AT8</text>
<text transform="translate(43.31,379.70) scale(1.0187,1)" font-size="22.5" fill="#222" >ptau</text>
<text transform="translate(87.77,387.10) scale(1.0049,1)" font-size="12.9" fill="#222" >AT180</text>
<text transform="translate(309.11,267.60) scale(1.1441,1)" font-size="15.6" fill="#222" >-64 kDa</text>
<text transform="translate(309.11,289.30) scale(1.1441,1)" font-size="15.6" fill="#222" >-50 kDa</text>
<text transform="translate(309.11,336.70) scale(1.1441,1)" font-size="15.6" fill="#222" >-50 kDa</text>
<text transform="translate(309.11,388.60) scale(1.1441,1)" font-size="15.6" fill="#222" >-50 kDa</text>
<text transform="translate(388.16,26.70) scale(1.0522,1)" font-size="25.4" fill="#222" >b</text>
<text transform="translate(554.87,15.80) scale(0.9840,1)" font-size="17.6" fill="#222" >cx</text>
<circle cx="581.5" cy="6.75" r="4.8" fill="none" stroke="#222" stroke-width="1.3"/>
<line x1="581.5" y1="11.55" x2="581.5" y2="19.9" stroke="#222" stroke-width="1.3"/>
<line x1="576.5" y1="15.0" x2="586.5" y2="15.0" stroke="#222" stroke-width="1.3"/>
<text transform="translate(589.47,15.80) scale(1.0388,1)" font-size="18.0" fill="#222" >40w</text>
<line x1="486.00" y1="20.40" x2="486.00" y2="165.10" stroke="#333" stroke-width="1.5" />
<line x1="481.00" y1="165.10" x2="679.00" y2="165.10" stroke="#333" stroke-width="1.5" />
<line x1="480.50" y1="129.00" x2="486.00" y2="129.00" stroke="#333" stroke-width="1.3" />
<line x1="480.50" y1="93.00" x2="486.00" y2="93.00" stroke="#333" stroke-width="1.3" />
<line x1="480.50" y1="56.60" x2="486.00" y2="56.60" stroke="#333" stroke-width="1.3" />
<line x1="480.50" y1="20.40" x2="486.00" y2="20.40" stroke="#333" stroke-width="1.3" />
<text transform="translate(472.90,169.20) scale(1.0950,1)" font-size="10.6" fill="#222" >0</text>
<text transform="translate(466.45,133.10) scale(1.0950,1)" font-size="10.6" fill="#222" >50</text>
<text transform="translate(459.99,97.10) scale(1.0950,1)" font-size="10.6" fill="#222" >100</text>
<text transform="translate(459.99,60.70) scale(1.0950,1)" font-size="10.6" fill="#222" >150</text>
<text transform="translate(459.99,24.50) scale(1.0950,1)" font-size="10.6" fill="#222" >200</text>
<text transform="translate(454.10,166.86) rotate(-90) scale(1.0496,1)" font-size="12.4" fill="#222">relative to WT (set to 100%)</text>
<rect x="494.70" y="23.70" width="10.90" height="10.50" fill="#d8d9db" stroke="#333" stroke-width="1.2" />
<rect x="494.70" y="39.20" width="10.90" height="10.50" fill="#fff" stroke="#333" stroke-width="1.2" />
<text transform="translate(509.84,33.40) scale(0.9534,1)" font-size="13.6" fill="#222" >WT</text>
<text transform="translate(509.36,49.50) scale(1.0233,1)" font-size="13.6" fill="#222" >KO</text>
<rect x="495.90" y="93.80" width="16.90" height="71.30" fill="#d8d9db" stroke="#333" stroke-width="1.2"/>
<rect x="516.50" y="89.00" width="16.90" height="76.10" fill="#fff" stroke="#333" stroke-width="1.2"/>
<rect x="562.90" y="93.80" width="16.90" height="71.30" fill="#d8d9db" stroke="#333" stroke-width="1.2"/>
<rect x="583.90" y="95.00" width="16.60" height="70.10" fill="#fff" stroke="#333" stroke-width="1.2"/>
<rect x="630.30" y="93.80" width="16.40" height="71.30" fill="#d8d9db" stroke="#333" stroke-width="1.2"/>
<rect x="650.90" y="86.00" width="16.70" height="79.10" fill="#fff" stroke="#333" stroke-width="1.2"/>
<line x1="504.30" y1="88.40" x2="504.30" y2="97.00" stroke="#333" stroke-width="1.2" />
<line x1="501.30" y1="88.40" x2="507.30" y2="88.40" stroke="#333" stroke-width="1.2" />
<line x1="501.30" y1="97.00" x2="507.30" y2="97.00" stroke="#333" stroke-width="1.2" />
<line x1="525.00" y1="82.30" x2="525.00" y2="93.80" stroke="#333" stroke-width="1.2" />
<line x1="522.00" y1="82.30" x2="528.00" y2="82.30" stroke="#333" stroke-width="1.2" />
<line x1="522.00" y1="93.80" x2="528.00" y2="93.80" stroke="#333" stroke-width="1.2" />
<line x1="571.40" y1="87.00" x2="571.40" y2="98.70" stroke="#333" stroke-width="1.2" />
<line x1="568.40" y1="87.00" x2="574.40" y2="87.00" stroke="#333" stroke-width="1.2" />
<line x1="568.40" y1="98.70" x2="574.40" y2="98.70" stroke="#333" stroke-width="1.2" />
<line x1="592.00" y1="82.30" x2="592.00" y2="105.20" stroke="#333" stroke-width="1.2" />
<line x1="589.00" y1="82.30" x2="595.00" y2="82.30" stroke="#333" stroke-width="1.2" />
<line x1="589.00" y1="105.20" x2="595.00" y2="105.20" stroke="#333" stroke-width="1.2" />
<line x1="638.40" y1="87.20" x2="638.40" y2="98.20" stroke="#333" stroke-width="1.2" />
<line x1="635.40" y1="87.20" x2="641.40" y2="87.20" stroke="#333" stroke-width="1.2" />
<line x1="635.40" y1="98.20" x2="641.40" y2="98.20" stroke="#333" stroke-width="1.2" />
<line x1="659.20" y1="73.40" x2="659.20" y2="96.60" stroke="#333" stroke-width="1.2" />
<line x1="656.20" y1="73.40" x2="662.20" y2="73.40" stroke="#333" stroke-width="1.2" />
<line x1="656.20" y1="96.60" x2="662.20" y2="96.60" stroke="#333" stroke-width="1.2" />
<circle cx="504.20" cy="70.40" r="1.85" fill="#1a1a1a"/>
<circle cx="504.20" cy="74.60" r="1.85" fill="#1a1a1a"/>
<circle cx="501.00" cy="86.60" r="1.85" fill="#1a1a1a"/>
<circle cx="507.30" cy="87.10" r="1.85" fill="#1a1a1a"/>
<circle cx="501.30" cy="95.20" r="1.85" fill="#1a1a1a"/>
<circle cx="507.30" cy="96.10" r="1.85" fill="#1a1a1a"/>
<circle cx="504.20" cy="102.10" r="1.85" fill="#1a1a1a"/>
<circle cx="501.00" cy="112.40" r="1.85" fill="#1a1a1a"/>
<circle cx="507.30" cy="109.80" r="1.85" fill="#1a1a1a"/>
<circle cx="525.00" cy="69.80" r="1.85" fill="#1a1a1a"/>
<circle cx="525.00" cy="78.00" r="1.85" fill="#1a1a1a"/>
<circle cx="522.00" cy="84.90" r="1.85" fill="#1a1a1a"/>
<circle cx="528.30" cy="85.40" r="1.85" fill="#1a1a1a"/>
<circle cx="522.00" cy="90.00" r="1.85" fill="#1a1a1a"/>
<circle cx="528.30" cy="91.80" r="1.85" fill="#1a1a1a"/>
<circle cx="525.00" cy="118.40" r="1.85" fill="#1a1a1a"/>
<circle cx="568.20" cy="71.60" r="1.85" fill="#1a1a1a"/>
<circle cx="574.60" cy="71.00" r="1.85" fill="#1a1a1a"/>
<circle cx="568.00" cy="92.30" r="1.85" fill="#1a1a1a"/>
<circle cx="574.50" cy="94.40" r="1.85" fill="#1a1a1a"/>
<circle cx="571.40" cy="100.40" r="1.85" fill="#1a1a1a"/>
<circle cx="568.00" cy="112.40" r="1.85" fill="#1a1a1a"/>
<circle cx="574.50" cy="112.40" r="1.85" fill="#1a1a1a"/>
<circle cx="592.10" cy="42.60" r="1.85" fill="#1a1a1a"/>
<circle cx="591.80" cy="69.50" r="1.85" fill="#1a1a1a"/>
<circle cx="591.80" cy="87.50" r="1.85" fill="#1a1a1a"/>
<circle cx="591.80" cy="97.00" r="1.85" fill="#1a1a1a"/>
<circle cx="588.80" cy="115.00" r="1.85" fill="#1a1a1a"/>
<circle cx="595.30" cy="115.00" r="1.85" fill="#1a1a1a"/>
<circle cx="591.80" cy="130.80" r="1.85" fill="#1a1a1a"/>
<circle cx="638.30" cy="71.90" r="1.85" fill="#1a1a1a"/>
<circle cx="638.30" cy="77.00" r="1.85" fill="#1a1a1a"/>
<circle cx="638.30" cy="81.10" r="1.85" fill="#1a1a1a"/>
<circle cx="635.20" cy="87.50" r="1.85" fill="#1a1a1a"/>
<circle cx="641.70" cy="87.50" r="1.85" fill="#1a1a1a"/>
<circle cx="638.30" cy="93.50" r="1.85" fill="#1a1a1a"/>
<circle cx="638.30" cy="100.40" r="1.85" fill="#1a1a1a"/>
<circle cx="635.20" cy="118.80" r="1.85" fill="#1a1a1a"/>
<circle cx="641.70" cy="117.60" r="1.85" fill="#1a1a1a"/>
<circle cx="659.30" cy="40.90" r="1.85" fill="#1a1a1a"/>
<circle cx="659.30" cy="58.40" r="1.85" fill="#1a1a1a"/>
<circle cx="658.90" cy="76.30" r="1.85" fill="#1a1a1a"/>
<circle cx="658.90" cy="81.10" r="1.85" fill="#1a1a1a"/>
<circle cx="658.90" cy="98.70" r="1.85" fill="#1a1a1a"/>
<circle cx="658.90" cy="110.70" r="1.85" fill="#1a1a1a"/>
<circle cx="658.90" cy="129.60" r="1.85" fill="#1a1a1a"/>
<text transform="translate(491.17,180.40) scale(1.0465,1)" font-size="14.6" fill="#222" >tau</text>
<text transform="translate(513.45,184.00) scale(1.0555,1)" font-size="11.0" fill="#222" >HT7</text>
<text transform="translate(553.78,180.40) scale(1.0755,1)" font-size="14.6" fill="#222" >ptau</text>
<text transform="translate(585.38,184.00) scale(1.0761,1)" font-size="11.0" fill="#222" >AT8</text>
<text transform="translate(618.18,180.40) scale(1.0717,1)" font-size="14.6" fill="#222" >ptau</text>
<text transform="translate(649.98,184.00) scale(1.0758,1)" font-size="11.0" fill="#222" >AT180</text>
<text transform="translate(385.85,240.75) scale(1.0761,1)" font-size="25.4" fill="#222" >d</text>
<text transform="translate(546.07,231.70) scale(1.0331,1)" font-size="18.6" fill="#222" >hip</text>
<circle cx="580.4" cy="224.2" r="4.7" fill="none" stroke="#222" stroke-width="1.3"/>
<line x1="580.4" y1="228.89999999999998" x2="580.4" y2="236.1" stroke="#222" stroke-width="1.3"/>
<line x1="575.6" y1="231.5" x2="585.1999999999999" y2="231.5" stroke="#222" stroke-width="1.3"/>
<text transform="translate(588.86,231.70) scale(1.0572,1)" font-size="18.0" fill="#222" >40w</text>
<line x1="486.00" y1="236.40" x2="486.00" y2="381.10" stroke="#333" stroke-width="1.5" />
<line x1="481.00" y1="381.10" x2="679.00" y2="381.10" stroke="#333" stroke-width="1.5" />
<line x1="480.50" y1="332.90" x2="486.00" y2="332.90" stroke="#333" stroke-width="1.3" />
<line x1="480.50" y1="284.60" x2="486.00" y2="284.60" stroke="#333" stroke-width="1.3" />
<line x1="480.50" y1="236.40" x2="486.00" y2="236.40" stroke="#333" stroke-width="1.3" />
<text transform="translate(472.90,385.10) scale(1.0950,1)" font-size="10.6" fill="#222" >0</text>
<text transform="translate(459.99,337.00) scale(1.0950,1)" font-size="10.6" fill="#222" >100</text>
<text transform="translate(459.99,288.70) scale(1.0950,1)" font-size="10.6" fill="#222" >200</text>
<text transform="translate(459.99,240.50) scale(1.0950,1)" font-size="10.6" fill="#222" >300</text>
<text transform="translate(454.10,382.86) rotate(-90) scale(1.0463,1)" font-size="12.4" fill="#222">relative to WT (set to 100%)</text>
<rect x="494.70" y="240.20" width="10.90" height="10.50" fill="#d8d9db" stroke="#333" stroke-width="1.2" />
<rect x="494.70" y="255.70" width="10.90" height="10.50" fill="#fff" stroke="#333" stroke-width="1.2" />
<text transform="translate(509.84,249.90) scale(0.9534,1)" font-size="13.6" fill="#222" >WT</text>
<text transform="translate(509.36,266.00) scale(1.0233,1)" font-size="13.6" fill="#222" >KO</text>
<rect x="495.90" y="333.80" width="16.80" height="47.30" fill="#d8d9db" stroke="#333" stroke-width="1.2"/>
<rect x="516.80" y="329.80" width="16.80" height="51.30" fill="#fff" stroke="#333" stroke-width="1.2"/>
<rect x="563.10" y="333.80" width="16.60" height="47.30" fill="#d8d9db" stroke="#333" stroke-width="1.2"/>
<rect x="583.90" y="330.90" width="16.70" height="50.20" fill="#fff" stroke="#333" stroke-width="1.2"/>
<rect x="630.30" y="333.70" width="16.40" height="47.40" fill="#d8d9db" stroke="#333" stroke-width="1.2"/>
<rect x="651.00" y="333.70" width="16.50" height="47.40" fill="#fff" stroke="#333" stroke-width="1.2"/>
<line x1="504.30" y1="327.70" x2="504.30" y2="337.50" stroke="#333" stroke-width="1.2" />
<line x1="501.30" y1="327.70" x2="507.30" y2="327.70" stroke="#333" stroke-width="1.2" />
<line x1="501.30" y1="337.50" x2="507.30" y2="337.50" stroke="#333" stroke-width="1.2" />
<line x1="525.00" y1="324.00" x2="525.00" y2="333.20" stroke="#333" stroke-width="1.2" />
<line x1="522.00" y1="324.00" x2="528.00" y2="324.00" stroke="#333" stroke-width="1.2" />
<line x1="522.00" y1="333.20" x2="528.00" y2="333.20" stroke="#333" stroke-width="1.2" />
<line x1="571.40" y1="321.10" x2="571.40" y2="344.50" stroke="#333" stroke-width="1.2" />
<line x1="568.40" y1="321.10" x2="574.40" y2="321.10" stroke="#333" stroke-width="1.2" />
<line x1="568.40" y1="344.50" x2="574.40" y2="344.50" stroke="#333" stroke-width="1.2" />
<line x1="592.10" y1="320.40" x2="592.10" y2="339.20" stroke="#333" stroke-width="1.2" />
<line x1="589.10" y1="320.40" x2="595.10" y2="320.40" stroke="#333" stroke-width="1.2" />
<line x1="589.10" y1="339.20" x2="595.10" y2="339.20" stroke="#333" stroke-width="1.2" />
<line x1="638.40" y1="327.60" x2="638.40" y2="338.60" stroke="#333" stroke-width="1.2" />
<line x1="635.40" y1="327.60" x2="641.40" y2="327.60" stroke="#333" stroke-width="1.2" />
<line x1="635.40" y1="338.60" x2="641.40" y2="338.60" stroke="#333" stroke-width="1.2" />
<line x1="659.20" y1="325.40" x2="659.20" y2="340.10" stroke="#333" stroke-width="1.2" />
<line x1="656.20" y1="325.40" x2="662.20" y2="325.40" stroke="#333" stroke-width="1.2" />
<line x1="656.20" y1="340.10" x2="662.20" y2="340.10" stroke="#333" stroke-width="1.2" />
<circle cx="504.30" cy="305.40" r="1.85" fill="#1a1a1a"/>
<circle cx="504.30" cy="322.90" r="1.85" fill="#1a1a1a"/>
<circle cx="497.00" cy="328.80" r="1.85" fill="#1a1a1a"/>
<circle cx="500.80" cy="329.20" r="1.85" fill="#1a1a1a"/>
<circle cx="507.50" cy="329.20" r="1.85" fill="#1a1a1a"/>
<circle cx="511.70" cy="330.30" r="1.85" fill="#1a1a1a"/>
<circle cx="499.20" cy="350.70" r="1.85" fill="#1a1a1a"/>
<circle cx="504.30" cy="349.10" r="1.85" fill="#1a1a1a"/>
<circle cx="509.50" cy="349.60" r="1.85" fill="#1a1a1a"/>
<circle cx="525.00" cy="304.30" r="1.85" fill="#1a1a1a"/>
<circle cx="517.40" cy="324.80" r="1.85" fill="#1a1a1a"/>
<circle cx="525.00" cy="327.70" r="1.85" fill="#1a1a1a"/>
<circle cx="532.00" cy="330.50" r="1.85" fill="#1a1a1a"/>
<circle cx="521.50" cy="343.00" r="1.85" fill="#1a1a1a"/>
<circle cx="528.80" cy="339.70" r="1.85" fill="#1a1a1a"/>
<circle cx="571.40" cy="255.50" r="1.85" fill="#1a1a1a"/>
<circle cx="571.40" cy="314.10" r="1.85" fill="#1a1a1a"/>
<circle cx="571.40" cy="316.90" r="1.85" fill="#1a1a1a"/>
<circle cx="571.40" cy="341.90" r="1.85" fill="#1a1a1a"/>
<circle cx="567.70" cy="357.20" r="1.85" fill="#1a1a1a"/>
<circle cx="574.70" cy="356.10" r="1.85" fill="#1a1a1a"/>
<circle cx="571.40" cy="362.70" r="1.85" fill="#1a1a1a"/>
<circle cx="571.40" cy="368.20" r="1.85" fill="#1a1a1a"/>
<circle cx="592.10" cy="288.70" r="1.85" fill="#1a1a1a"/>
<circle cx="592.10" cy="306.40" r="1.85" fill="#1a1a1a"/>
<circle cx="592.10" cy="328.70" r="1.85" fill="#1a1a1a"/>
<circle cx="588.60" cy="336.40" r="1.85" fill="#1a1a1a"/>
<circle cx="595.80" cy="335.70" r="1.85" fill="#1a1a1a"/>
<circle cx="592.10" cy="354.50" r="1.85" fill="#1a1a1a"/>
<circle cx="592.10" cy="358.20" r="1.85" fill="#1a1a1a"/>
<circle cx="638.40" cy="306.40" r="1.85" fill="#1a1a1a"/>
<circle cx="630.80" cy="324.80" r="1.85" fill="#1a1a1a"/>
<circle cx="635.10" cy="326.10" r="1.85" fill="#1a1a1a"/>
<circle cx="641.30" cy="325.40" r="1.85" fill="#1a1a1a"/>
<circle cx="645.60" cy="323.30" r="1.85" fill="#1a1a1a"/>
<circle cx="638.40" cy="330.50" r="1.85" fill="#1a1a1a"/>
<circle cx="638.40" cy="344.70" r="1.85" fill="#1a1a1a"/>
<circle cx="638.40" cy="351.20" r="1.85" fill="#1a1a1a"/>
<circle cx="638.40" cy="364.10" r="1.85" fill="#1a1a1a"/>
<circle cx="659.20" cy="304.70" r="1.85" fill="#1a1a1a"/>
<circle cx="659.20" cy="313.90" r="1.85" fill="#1a1a1a"/>
<circle cx="659.20" cy="334.20" r="1.85" fill="#1a1a1a"/>
<circle cx="659.20" cy="341.40" r="1.85" fill="#1a1a1a"/>
<circle cx="659.20" cy="347.70" r="1.85" fill="#1a1a1a"/>
<circle cx="659.20" cy="363.10" r="1.85" fill="#1a1a1a"/>
<text transform="translate(493.28,396.50) scale(0.9837,1)" font-size="14.6" fill="#222" >tau</text>
<text transform="translate(512.48,399.00) scale(1.1331,1)" font-size="11.0" fill="#222" >HT7</text>
<text transform="translate(553.78,396.50) scale(1.0755,1)" font-size="14.6" fill="#222" >ptau</text>
<text transform="translate(584.18,399.00) scale(1.1079,1)" font-size="11.0" fill="#222" >AT8</text>
<text transform="translate(622.72,396.50) scale(1.0378,1)" font-size="14.6" fill="#222" >ptau</text>
<text transform="translate(652.08,399.00) scale(1.0501,1)" font-size="11.0" fill="#222" >AT180</text>
<text transform="translate(-0.93,460.00) scale(1.0008,1)" font-size="27" fill="#222" >e</text>
<text transform="translate(135.37,461.10) scale(0.9412,1)" font-size="18.4" fill="#222" >cx</text>
<circle cx="161.6" cy="451.7" r="4.7" fill="none" stroke="#222" stroke-width="1.3"/>
<line x1="161.6" y1="456.4" x2="161.6" y2="465.7" stroke="#222" stroke-width="1.3"/>
<line x1="156.54999999999998" y1="461.2" x2="166.65" y2="461.2" stroke="#222" stroke-width="1.3"/>
<text transform="translate(169.46,460.70) scale(1.0456,1)" font-size="18.2" fill="#222" >40w</text>
<line x1="51.40" y1="481.60" x2="51.40" y2="623.00" stroke="#4a4a4a" stroke-width="1.1" />
<line x1="46.50" y1="623.00" x2="264.00" y2="623.00" stroke="#8e8e8e" stroke-width="1.4" />
<line x1="263.60" y1="481.60" x2="263.60" y2="623.00" stroke="#4a4a4a" stroke-width="1.1" />
<text transform="translate(41.34,626.20) scale(1.0700,1)" font-size="9.5" fill="#222" >0</text>
<line x1="47.80" y1="587.67" x2="51.40" y2="587.67" stroke="#4a4a4a" stroke-width="1.0" />
<text transform="translate(30.04,590.87) scale(1.0700,1)" font-size="9.5" fill="#222" >500</text>
<line x1="47.80" y1="552.34" x2="51.40" y2="552.34" stroke="#4a4a4a" stroke-width="1.0" />
<text transform="translate(24.39,555.54) scale(1.0700,1)" font-size="9.5" fill="#222" >1000</text>
<line x1="47.80" y1="517.01" x2="51.40" y2="517.01" stroke="#4a4a4a" stroke-width="1.0" />
<text transform="translate(24.39,520.21) scale(1.0700,1)" font-size="9.5" fill="#222" >1500</text>
<line x1="47.80" y1="481.68" x2="51.40" y2="481.68" stroke="#4a4a4a" stroke-width="1.0" />
<text transform="translate(24.39,484.88) scale(1.0700,1)" font-size="9.5" fill="#222" >2000</text>
<text transform="translate(267.80,626.40) scale(1.0000,1)" font-size="10.2" fill="#222" >0.0</text>
<line x1="263.60" y1="587.67" x2="266.20" y2="587.67" stroke="#4a4a4a" stroke-width="1.0" />
<text transform="translate(267.80,591.07) scale(1.0000,1)" font-size="10.2" fill="#222" >0.5</text>
<line x1="263.60" y1="552.34" x2="266.20" y2="552.34" stroke="#4a4a4a" stroke-width="1.0" />
<text transform="translate(267.42,555.74) scale(1.0000,1)" font-size="10.2" fill="#222" >1.0</text>
<line x1="263.60" y1="517.01" x2="266.20" y2="517.01" stroke="#4a4a4a" stroke-width="1.0" />
<text transform="translate(267.42,520.41) scale(1.0000,1)" font-size="10.2" fill="#222" >1.5</text>
<line x1="263.60" y1="481.68" x2="266.20" y2="481.68" stroke="#4a4a4a" stroke-width="1.0" />
<text transform="translate(267.69,485.08) scale(1.0000,1)" font-size="10.2" fill="#222" >2.0</text>
<line x1="192.3" y1="481" x2="192.3" y2="623.0" stroke="#555" stroke-width="0.9" stroke-dasharray="1.2,1.2"/>
<text transform="translate(18.60,584.76) rotate(-90) scale(1.0204,1)" font-size="11.3" fill="#222">ng/mg protein</text>
<text transform="translate(297.60,561.08) rotate(-90) scale(1.0788,1)" font-size="11.0" fill="#222">ratio</text>
<rect x="56.90" y="484.30" width="9.20" height="8.60" fill="#d8d9db" stroke="#333" stroke-width="1.2" rx="1"/>
<rect x="56.90" y="498.70" width="9.20" height="9.00" fill="#fff" stroke="#333" stroke-width="1.2" rx="1"/>
<text transform="translate(69.24,493.60) scale(1.0369,1)" font-size="12.0" fill="#222" >WT</text>
<text transform="translate(68.48,507.70) scale(1.1343,1)" font-size="12.0" fill="#222" >KO</text>
<rect x="62.75" y="561.65" width="20.50" height="61.35" fill="#d8d9db" stroke="#444" stroke-width="1.1"/>
<rect x="89.85" y="557.85" width="20.70" height="65.15" fill="#fff" stroke="#444" stroke-width="1.1"/>
<rect x="133.55" y="536.25" width="20.50" height="86.75" fill="#d8d9db" stroke="#444" stroke-width="1.1"/>
<rect x="160.95" y="542.25" width="20.20" height="80.75" fill="#fff" stroke="#444" stroke-width="1.1"/>
<rect x="204.25" y="520.35" width="20.00" height="102.65" fill="#d8d9db" stroke="#444" stroke-width="1.1"/>
<rect x="231.35" y="532.85" width="20.40" height="90.15" fill="#fff" stroke="#444" stroke-width="1.1"/>
<line x1="46.50" y1="623.00" x2="264.00" y2="623.00" stroke="#8e8e8e" stroke-width="1.4" />
<line x1="73.10" y1="556.40" x2="73.10" y2="565.50" stroke="#333" stroke-width="1.2" />
<line x1="68.10" y1="556.40" x2="78.10" y2="556.40" stroke="#333" stroke-width="1.2" />
<line x1="68.10" y1="565.50" x2="78.10" y2="565.50" stroke="#333" stroke-width="1.2" />
<line x1="100.30" y1="551.90" x2="100.30" y2="562.30" stroke="#333" stroke-width="1.2" />
<line x1="95.30" y1="551.90" x2="105.30" y2="551.90" stroke="#333" stroke-width="1.2" />
<line x1="95.30" y1="562.30" x2="105.30" y2="562.30" stroke="#333" stroke-width="1.2" />
<line x1="143.50" y1="531.30" x2="143.50" y2="539.30" stroke="#333" stroke-width="1.2" />
<line x1="138.50" y1="531.30" x2="148.50" y2="531.30" stroke="#333" stroke-width="1.2" />
<line x1="138.50" y1="539.30" x2="148.50" y2="539.30" stroke="#333" stroke-width="1.2" />
<line x1="170.90" y1="537.10" x2="170.90" y2="545.50" stroke="#333" stroke-width="1.2" />
<line x1="165.90" y1="537.10" x2="175.90" y2="537.10" stroke="#333" stroke-width="1.2" />
<line x1="165.90" y1="545.50" x2="175.90" y2="545.50" stroke="#333" stroke-width="1.2" />
<line x1="214.50" y1="512.30" x2="214.50" y2="527.20" stroke="#333" stroke-width="1.2" />
<line x1="209.50" y1="512.30" x2="219.50" y2="512.30" stroke="#333" stroke-width="1.2" />
<line x1="209.50" y1="527.20" x2="219.50" y2="527.20" stroke="#333" stroke-width="1.2" />
<line x1="241.60" y1="524.10" x2="241.60" y2="539.70" stroke="#333" stroke-width="1.2" />
<line x1="236.60" y1="524.10" x2="246.60" y2="524.10" stroke="#333" stroke-width="1.2" />
<line x1="236.60" y1="539.70" x2="246.60" y2="539.70" stroke="#333" stroke-width="1.2" />
<circle cx="73.10" cy="537.50" r="1.85" fill="#1a1a1a"/>
<circle cx="73.10" cy="545.90" r="1.85" fill="#1a1a1a"/>
<circle cx="64.10" cy="564.80" r="1.85" fill="#1a1a1a"/>
<circle cx="73.10" cy="564.40" r="1.85" fill="#1a1a1a"/>
<circle cx="77.50" cy="566.70" r="1.85" fill="#1a1a1a"/>
<circle cx="82.20" cy="564.70" r="1.85" fill="#1a1a1a"/>
<circle cx="73.10" cy="568.10" r="1.85" fill="#1a1a1a"/>
<circle cx="73.10" cy="576.70" r="1.85" fill="#1a1a1a"/>
<circle cx="96.50" cy="540.30" r="1.85" fill="#1a1a1a"/>
<circle cx="103.70" cy="541.90" r="1.85" fill="#1a1a1a"/>
<circle cx="100.30" cy="547.50" r="1.85" fill="#1a1a1a"/>
<circle cx="103.70" cy="561.30" r="1.85" fill="#1a1a1a"/>
<circle cx="96.50" cy="563.40" r="1.85" fill="#1a1a1a"/>
<circle cx="100.30" cy="569.20" r="1.85" fill="#1a1a1a"/>
<circle cx="100.30" cy="577.30" r="1.85" fill="#1a1a1a"/>
<circle cx="140.60" cy="524.00" r="1.85" fill="#1a1a1a"/>
<circle cx="134.50" cy="527.50" r="1.85" fill="#1a1a1a"/>
<circle cx="140.60" cy="530.20" r="1.85" fill="#1a1a1a"/>
<circle cx="146.80" cy="529.10" r="1.85" fill="#1a1a1a"/>
<circle cx="152.60" cy="529.70" r="1.85" fill="#1a1a1a"/>
<circle cx="140.60" cy="543.00" r="1.85" fill="#1a1a1a"/>
<circle cx="146.80" cy="545.50" r="1.85" fill="#1a1a1a"/>
<circle cx="143.50" cy="553.70" r="1.85" fill="#1a1a1a"/>
<circle cx="170.90" cy="524.00" r="1.85" fill="#1a1a1a"/>
<circle cx="167.20" cy="535.40" r="1.85" fill="#1a1a1a"/>
<circle cx="174.40" cy="534.10" r="1.85" fill="#1a1a1a"/>
<circle cx="170.90" cy="539.70" r="1.85" fill="#1a1a1a"/>
<circle cx="167.20" cy="549.20" r="1.85" fill="#1a1a1a"/>
<circle cx="174.40" cy="549.90" r="1.85" fill="#1a1a1a"/>
<circle cx="170.90" cy="557.20" r="1.85" fill="#1a1a1a"/>
<circle cx="210.80" cy="503.00" r="1.85" fill="#1a1a1a"/>
<circle cx="218.10" cy="499.50" r="1.85" fill="#1a1a1a"/>
<circle cx="218.10" cy="504.50" r="1.85" fill="#1a1a1a"/>
<circle cx="210.80" cy="509.20" r="1.85" fill="#1a1a1a"/>
<circle cx="218.10" cy="510.30" r="1.85" fill="#1a1a1a"/>
<circle cx="210.80" cy="536.10" r="1.85" fill="#1a1a1a"/>
<circle cx="218.10" cy="537.30" r="1.85" fill="#1a1a1a"/>
<circle cx="214.20" cy="556.90" r="1.85" fill="#1a1a1a"/>
<circle cx="238.00" cy="507.70" r="1.85" fill="#1a1a1a"/>
<circle cx="245.00" cy="508.90" r="1.85" fill="#1a1a1a"/>
<circle cx="241.60" cy="521.25" r="1.85" fill="#1a1a1a"/>
<circle cx="241.60" cy="530.30" r="1.85" fill="#1a1a1a"/>
<circle cx="241.60" cy="544.40" r="1.85" fill="#1a1a1a"/>
<circle cx="241.60" cy="550.60" r="1.85" fill="#1a1a1a"/>
<circle cx="241.60" cy="560.60" r="1.85" fill="#1a1a1a"/>
<text transform="translate(69.62,636.20) scale(0.8567,1)" font-size="14.0" fill="#222" >tau</text>
<text transform="translate(86.46,638.40) scale(0.9113,1)" font-size="10.5" fill="#222" >total</text>
<text transform="translate(131.80,636.20) scale(0.8815,1)" font-size="14.0" fill="#222" >ptau</text>
<text transform="translate(155.40,638.40) scale(0.8826,1)" font-size="10.5" fill="#222" >Thr231</text>
<text transform="translate(205.04,636.00) scale(0.9984,1)" font-size="13.2" fill="#222" >ptau/tau</text>
<text transform="translate(393.39,462.60) scale(1.1321,1)" font-size="26" fill="#222" >f</text>
<text transform="translate(514.60,465.60) scale(1.0561,1)" font-size="19.2" fill="#222" >hip</text>
<circle cx="550.0" cy="456.2" r="4.7" fill="none" stroke="#222" stroke-width="1.3"/>
<line x1="550.0" y1="460.9" x2="550.0" y2="470.1" stroke="#222" stroke-width="1.3"/>
<line x1="545.25" y1="465.4" x2="554.75" y2="465.4" stroke="#222" stroke-width="1.3"/>
<text transform="translate(558.36,465.40) scale(1.0171,1)" font-size="18.6" fill="#222" >40w</text>
<line x1="440.30" y1="476.70" x2="440.30" y2="623.10" stroke="#4a4a4a" stroke-width="1.1" />
<line x1="435.50" y1="623.10" x2="660.00" y2="623.10" stroke="#4a4a4a" stroke-width="1.3" />
<line x1="659.70" y1="477.50" x2="659.70" y2="623.10" stroke="#4a4a4a" stroke-width="1.1" />
<text transform="translate(430.04,626.30) scale(1.0700,1)" font-size="9.5" fill="#222" >0</text>
<line x1="436.80" y1="586.52" x2="440.30" y2="586.52" stroke="#4a4a4a" stroke-width="1.0" />
<text transform="translate(418.74,589.72) scale(1.0700,1)" font-size="9.5" fill="#222" >500</text>
<line x1="436.80" y1="549.94" x2="440.30" y2="549.94" stroke="#4a4a4a" stroke-width="1.0" />
<text transform="translate(413.09,553.14) scale(1.0700,1)" font-size="9.5" fill="#222" >1000</text>
<line x1="436.80" y1="513.36" x2="440.30" y2="513.36" stroke="#4a4a4a" stroke-width="1.0" />
<text transform="translate(413.09,516.56) scale(1.0700,1)" font-size="9.5" fill="#222" >1500</text>
<line x1="436.80" y1="476.78" x2="440.30" y2="476.78" stroke="#4a4a4a" stroke-width="1.0" />
<text transform="translate(413.09,479.98) scale(1.0700,1)" font-size="9.5" fill="#222" >2000</text>
<text transform="translate(662.60,626.50) scale(1.0000,1)" font-size="10.2" fill="#222" >0</text>
<line x1="659.70" y1="574.63" x2="662.30" y2="574.63" stroke="#4a4a4a" stroke-width="1.0" />
<text transform="translate(663.22,578.03) scale(1.0000,1)" font-size="10.2" fill="#222" >1</text>
<line x1="659.70" y1="526.16" x2="662.30" y2="526.16" stroke="#4a4a4a" stroke-width="1.0" />
<text transform="translate(662.49,529.56) scale(1.0000,1)" font-size="10.2" fill="#222" >2</text>
<line x1="659.70" y1="477.69" x2="662.30" y2="477.69" stroke="#4a4a4a" stroke-width="1.0" />
<text transform="translate(662.61,481.09) scale(1.0000,1)" font-size="10.2" fill="#222" >3</text>
<line x1="586" y1="477.4" x2="586" y2="623.1" stroke="#666" stroke-width="0.9" stroke-dasharray="1.2,1.2"/>
<text transform="translate(408.30,582.29) rotate(-90) scale(1.0286,1)" font-size="11.6" fill="#222">ng/mg protein</text>
<text transform="translate(685.00,559.76) rotate(-90) scale(1.0491,1)" font-size="11.0" fill="#222">ratio</text>
<rect x="446.00" y="480.50" width="9.20" height="8.60" fill="#d8d9db" stroke="#333" stroke-width="1.2" rx="1"/>
<rect x="446.00" y="495.10" width="9.20" height="9.00" fill="#fff" stroke="#333" stroke-width="1.2" rx="1"/>
<text transform="translate(458.54,489.20) scale(1.0260,1)" font-size="12.0" fill="#222" >WT</text>
<text transform="translate(457.91,503.50) scale(1.1090,1)" font-size="12.0" fill="#222" >KO</text>
<rect x="452.18" y="564.08" width="20.95" height="59.03" fill="#d8d9db" stroke="#3c3c3c" stroke-width="1.15"/>
<rect x="479.88" y="547.78" width="21.05" height="75.32" fill="#fff" stroke="#3c3c3c" stroke-width="1.15"/>
<rect x="525.08" y="545.88" width="20.95" height="77.23" fill="#d8d9db" stroke="#3c3c3c" stroke-width="1.15"/>
<rect x="553.08" y="529.98" width="21.15" height="93.13" fill="#fff" stroke="#3c3c3c" stroke-width="1.15"/>
<rect x="598.58" y="551.68" width="20.15" height="71.42" fill="#d8d9db" stroke="#3c3c3c" stroke-width="1.15"/>
<rect x="625.78" y="555.08" width="21.45" height="68.03" fill="#fff" stroke="#3c3c3c" stroke-width="1.15"/>
<line x1="462.50" y1="555.30" x2="462.50" y2="570.30" stroke="#333" stroke-width="1.2" />
<line x1="457.25" y1="555.30" x2="467.75" y2="555.30" stroke="#333" stroke-width="1.2" />
<line x1="457.25" y1="570.30" x2="467.75" y2="570.30" stroke="#333" stroke-width="1.2" />
<line x1="490.60" y1="535.90" x2="490.60" y2="557.90" stroke="#333" stroke-width="1.2" />
<line x1="485.35" y1="535.90" x2="495.85" y2="535.90" stroke="#333" stroke-width="1.2" />
<line x1="485.35" y1="557.90" x2="495.85" y2="557.90" stroke="#333" stroke-width="1.2" />
<line x1="535.60" y1="542.50" x2="535.60" y2="546.50" stroke="#333" stroke-width="1.2" />
<line x1="530.35" y1="542.50" x2="540.85" y2="542.50" stroke="#333" stroke-width="1.2" />
<line x1="530.35" y1="546.50" x2="540.85" y2="546.50" stroke="#333" stroke-width="1.2" />
<line x1="563.50" y1="523.80" x2="563.50" y2="534.10" stroke="#333" stroke-width="1.2" />
<line x1="558.25" y1="523.80" x2="568.75" y2="523.80" stroke="#333" stroke-width="1.2" />
<line x1="558.25" y1="534.10" x2="568.75" y2="534.10" stroke="#333" stroke-width="1.2" />
<line x1="608.60" y1="540.40" x2="608.60" y2="560.40" stroke="#333" stroke-width="1.2" />
<line x1="603.35" y1="540.40" x2="613.85" y2="540.40" stroke="#333" stroke-width="1.2" />
<line x1="603.35" y1="560.40" x2="613.85" y2="560.40" stroke="#333" stroke-width="1.2" />
<line x1="636.50" y1="542.30" x2="636.50" y2="566.20" stroke="#333" stroke-width="1.2" />
<line x1="631.25" y1="542.30" x2="641.75" y2="542.30" stroke="#333" stroke-width="1.2" />
<line x1="631.25" y1="566.20" x2="641.75" y2="566.20" stroke="#333" stroke-width="1.2" />
<circle cx="462.40" cy="528.80" r="1.85" fill="#1a1a1a"/>
<circle cx="459.10" cy="544.90" r="1.85" fill="#1a1a1a"/>
<circle cx="466.20" cy="542.50" r="1.85" fill="#1a1a1a"/>
<circle cx="462.40" cy="550.90" r="1.85" fill="#1a1a1a"/>
<circle cx="459.10" cy="568.75" r="1.85" fill="#1a1a1a"/>
<circle cx="466.20" cy="570.60" r="1.85" fill="#1a1a1a"/>
<circle cx="462.40" cy="582.25" r="1.85" fill="#1a1a1a"/>
<circle cx="459.10" cy="590.90" r="1.85" fill="#1a1a1a"/>
<circle cx="466.20" cy="589.00" r="1.85" fill="#1a1a1a"/>
<circle cx="490.80" cy="502.80" r="1.85" fill="#1a1a1a"/>
<circle cx="490.80" cy="515.90" r="1.85" fill="#1a1a1a"/>
<circle cx="490.60" cy="535.90" r="1.85" fill="#1a1a1a"/>
<circle cx="490.50" cy="560.30" r="1.85" fill="#1a1a1a"/>
<circle cx="490.50" cy="565.60" r="1.85" fill="#1a1a1a"/>
<circle cx="490.50" cy="569.70" r="1.85" fill="#1a1a1a"/>
<circle cx="490.50" cy="576.80" r="1.85" fill="#1a1a1a"/>
<circle cx="535.60" cy="527.25" r="1.85" fill="#1a1a1a"/>
<circle cx="535.60" cy="536.60" r="1.85" fill="#1a1a1a"/>
<circle cx="526.25" cy="545.60" r="1.85" fill="#1a1a1a"/>
<circle cx="530.60" cy="547.25" r="1.85" fill="#1a1a1a"/>
<circle cx="535.60" cy="548.50" r="1.85" fill="#1a1a1a"/>
<circle cx="540.25" cy="547.75" r="1.85" fill="#1a1a1a"/>
<circle cx="545.00" cy="546.90" r="1.85" fill="#1a1a1a"/>
<circle cx="526.25" cy="550.60" r="1.85" fill="#1a1a1a"/>
<circle cx="545.00" cy="551.25" r="1.85" fill="#1a1a1a"/>
<circle cx="556.25" cy="509.40" r="1.85" fill="#1a1a1a"/>
<circle cx="563.50" cy="512.50" r="1.85" fill="#1a1a1a"/>
<circle cx="563.50" cy="522.50" r="1.85" fill="#1a1a1a"/>
<circle cx="556.25" cy="537.10" r="1.85" fill="#1a1a1a"/>
<circle cx="563.50" cy="539.00" r="1.85" fill="#1a1a1a"/>
<circle cx="571.00" cy="540.60" r="1.85" fill="#1a1a1a"/>
<circle cx="556.25" cy="542.10" r="1.85" fill="#1a1a1a"/>
<circle cx="608.60" cy="492.60" r="1.85" fill="#1a1a1a"/>
<circle cx="608.60" cy="520.50" r="1.85" fill="#1a1a1a"/>
<circle cx="608.60" cy="532.50" r="1.85" fill="#1a1a1a"/>
<circle cx="604.70" cy="554.50" r="1.85" fill="#1a1a1a"/>
<circle cx="611.90" cy="553.70" r="1.85" fill="#1a1a1a"/>
<circle cx="608.60" cy="565.20" r="1.85" fill="#1a1a1a"/>
<circle cx="604.70" cy="574.20" r="1.85" fill="#1a1a1a"/>
<circle cx="611.90" cy="576.30" r="1.85" fill="#1a1a1a"/>
<circle cx="608.60" cy="584.30" r="1.85" fill="#1a1a1a"/>
<circle cx="636.50" cy="503.20" r="1.85" fill="#1a1a1a"/>
<circle cx="636.50" cy="521.80" r="1.85" fill="#1a1a1a"/>
<circle cx="636.50" cy="552.90" r="1.85" fill="#1a1a1a"/>
<circle cx="636.50" cy="559.80" r="1.85" fill="#1a1a1a"/>
<circle cx="636.50" cy="566.50" r="1.85" fill="#1a1a1a"/>
<circle cx="633.20" cy="588.30" r="1.85" fill="#1a1a1a"/>
<circle cx="640.60" cy="584.80" r="1.85" fill="#1a1a1a"/>
<text transform="translate(527.89,496.90) scale(1.0373,1)" font-size="9.0" fill="#444" >p=0.0115</text>
<line x1="533.30" y1="500.00" x2="563.30" y2="500.00" stroke="#777" stroke-width="1.4" />
<text transform="translate(459.71,636.00) scale(0.8894,1)" font-size="14.0" fill="#222" >tau</text>
<text transform="translate(478.35,638.60) scale(0.9218,1)" font-size="10.5" fill="#222" >total</text>
<text transform="translate(521.34,636.00) scale(0.9484,1)" font-size="14.0" fill="#222" >ptau</text>
<text transform="translate(547.69,638.60) scale(0.9195,1)" font-size="10.5" fill="#222" >Thr231</text>
<text transform="translate(599.13,636.10) scale(1.0114,1)" font-size="13.2" fill="#222" >ptau/tau</text>
</svg>
</body></html>
